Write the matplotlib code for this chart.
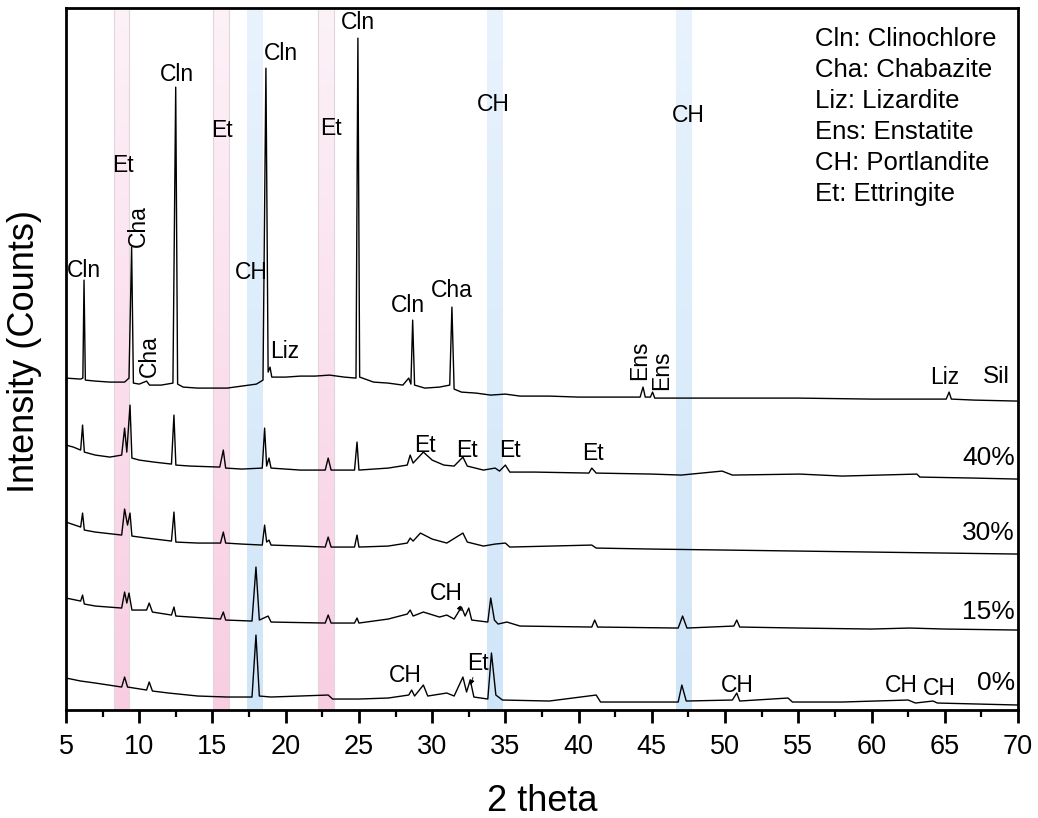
import matplotlib as mpl
mpl.use('Agg')
import matplotlib.pyplot as plt
from matplotlib.ticker import MultipleLocator
import numpy as np

plt.rcParams['font.family'] = ['Liberation Sans', 'DejaVu Sans']

# stacked XRD patterns, intensity in counts (offset already applied)
sil_x = [5.0, 6.0, 6.15, 6.23, 6.32, 7.0, 8.0, 9.0, 9.3, 9.48, 9.6, 10.0, 10.5, 10.7, 11.5,
         12.3, 12.49, 12.62, 13.0, 14.0, 15.0, 16.0, 17.0, 18.0, 18.45, 18.65, 18.8, 18.93,
         19.05, 20.0, 21.0, 22.0, 23.0, 24.0, 24.8, 24.93, 25.05, 26.0, 27.0, 28.0, 28.4,
         28.55, 28.67, 28.8, 29.5, 30.5, 31.2, 31.35, 31.5, 32.0, 33.0, 34.0, 35.0, 36.0,
         38.0, 40.0, 42.0, 44.2, 44.4, 44.55, 44.9, 45.05, 45.2, 47.0, 50.0, 55.0, 60.0,
         65.1, 65.3, 65.45, 67.0, 70.0]
sil_y = [332, 331, 332, 430, 330, 329, 328, 328, 332, 463, 327, 326, 329, 325, 325,
         327, 623, 326, 323, 322, 322, 322, 324, 326, 330, 642, 338, 343,
         333, 333, 334, 334, 335, 333, 332, 672, 333, 328, 327, 325, 332,
         326, 390, 325, 322, 323, 325, 403, 321, 318, 317, 315, 316, 314,
         314, 313, 313, 313, 323, 313, 313, 318, 312, 312, 312, 312, 311,
         311, 318, 311, 310, 309]

p40_x = [5.0, 5.5, 6.0, 6.13, 6.25, 7.0, 8.0, 8.8, 9.0, 9.15, 9.37, 9.5, 10.0, 11.0, 12.2,
         12.37, 12.5, 13.5, 15.5, 15.74, 15.9, 17.0, 18.4, 18.56, 18.7, 18.86, 19.0, 20.0,
         21.0, 22.7, 22.9, 23.1, 24.7, 24.87, 25.0, 26.0, 27.0, 28.3, 28.5, 28.7, 29.4,
         30.0, 30.8, 31.5, 32.1, 32.4, 33.5, 34.3, 34.6, 35.0, 35.3, 37.0, 40.7, 40.9,
         41.2, 45.0, 47.0, 49.8, 50.5, 55.1, 58.0, 63.1, 63.3, 67.0, 70.0]
p40_y = [265, 263, 260, 285, 258, 255, 253, 255, 282, 258, 305, 252, 250, 248, 246,
         295, 245, 244, 243, 260, 242, 241, 242, 282, 244, 252, 242, 241,
         240, 240, 252, 240, 240, 268, 240, 241, 242, 245, 255, 247, 258,
         250, 245, 244, 253, 244, 240, 242, 239, 245, 238, 238, 237, 242,
         237, 236, 235, 239, 235, 236, 234, 236, 233, 232, 231]

p30_x = [5.0, 6.0, 6.13, 6.25, 7.0, 8.8, 9.0, 9.2, 9.37, 9.5, 10.5, 12.2, 12.37, 12.5, 14.0,
         15.55, 15.74, 15.9, 17.0, 18.4, 18.56, 18.7, 18.86, 19.0, 21.0, 22.7, 22.9, 23.1,
         24.7, 24.87, 25.0, 27.0, 28.3, 28.5, 28.7, 29.2, 30.0, 31.0, 32.1, 32.4, 33.5,
         34.3, 35.0, 35.3, 40.9, 41.2, 45.0, 50.0, 55.0, 60.0, 65.0, 70.0]
p30_y = [188, 183, 197, 180, 178, 175, 201, 185, 197, 174, 172, 169, 198, 168, 167,
         167, 178, 167, 166, 165, 185, 168, 170, 165, 164, 163, 173, 163,
         163, 175, 163, 164, 167, 172, 169, 177, 171, 167, 177, 168, 164,
         166, 167, 163, 165, 162, 161, 160, 159, 158, 157, 156]

p15_x = [5.0, 6.0, 6.13, 6.25, 7.0, 8.8, 9.0, 9.15, 9.3, 9.5, 10.5, 10.68, 10.9, 12.2, 12.37,
         12.5, 15.55, 15.74, 15.9, 17.7, 17.97, 18.2, 18.8, 19.0, 22.7, 22.9, 23.1, 24.7,
         24.87, 25.0, 27.0, 28.3, 28.5, 28.7, 29.4, 30.5, 31.0, 31.5, 32.0, 32.25, 32.5,
         32.7, 33.8, 34.0, 34.25, 34.5, 35.1, 36.0, 40.9, 41.1, 41.3, 46.8, 47.1, 47.4,
         50.6, 50.8, 51.0, 55.0, 60.0, 62.6, 65.0, 70.0]
p15_y = [112, 109, 115, 106, 104, 102, 118, 107, 117, 100, 100, 107, 98, 95, 103,
         94, 91, 98, 90, 89, 143, 90, 94, 88, 87, 95, 87, 87,
         92, 87, 91, 96, 100, 94, 98, 93, 95, 91, 103, 94, 102,
         90, 88, 112, 90, 86, 88, 84, 83, 90, 83, 82, 94, 82,
         84, 90, 83, 82, 81, 82, 81, 80]

p0_x = [5.0, 6.0, 7.0, 8.8, 9.0, 9.2, 10.5, 10.68, 10.9, 12.0, 14.0, 16.0, 17.7, 17.97, 18.2,
        19.0, 22.9, 23.2, 25.0, 27.0, 28.4, 28.6, 28.8, 29.4, 29.7, 31.0, 31.5, 32.1,
        32.35, 32.6, 32.85, 33.8, 34.05, 34.35, 34.8, 38.0, 41.2, 41.5, 46.8, 47.05, 47.35,
        50.5, 50.8, 51.0, 54.3, 54.6, 58.0, 62.5, 63.0, 64.2, 64.5, 70.0]
p0_y = [32, 29, 27, 23, 33, 23, 20, 28, 19, 17, 14, 13, 13, 75, 14,
        13, 15, 11, 11, 12, 15, 20, 14, 25, 14, 17, 14, 33,
        18, 30, 13, 11, 57, 15, 10, 9, 15, 8, 8, 25, 9,
        10, 17, 9, 12, 8, 8, 10, 7, 9, 7, 5]

et_bands = [(8.28, 9.32), (15.06, 16.15), (22.22, 23.31)]
ch_bands = [(17.38, 18.47), (33.76, 34.81), (46.68, 47.71)]

legend_lines = ['Cln: Clinochlore', 'Cha: Chabazite', 'Liz: Lizardite',
                'Ens: Enstatite', 'CH: Portlandite', 'Et: Ettringite']
sample_names = ['Sil', '40%', '30%', '15%', '0%']

# peak labels: (text, 2theta, y, rotation)
peak_labels = [
    ('Cln', 6.23, 440, 0), ('Et', 8.89, 545, 0), ('Cha', 9.92, 484, 90),
    ('Cha', 10.67, 354, 90), ('Cln', 12.58, 636, 0), ('Et', 15.65, 580, 0),
    ('CH', 17.63, 438, 0), ('Cln', 19.68, 657, 0), ('Liz', 19.95, 359, 0),
    ('Et', 23.09, 582, 0), ('Cln', 24.93, 688, 0), ('Cln', 28.34, 405, 0),
    ('Cha', 31.35, 420, 0), ('CH', 34.15, 606, 0), ('CH', 47.46, 595, 0),
    ('Ens', 44.18, 350, 90), ('Ens', 45.68, 340, 90), ('Liz', 65.0, 333, 0),
    ('Et', 29.5, 265, 0), ('Et', 32.37, 260, 0), ('Et', 35.3, 260, 0),
    ('Et', 40.97, 257, 0),
    ('CH', 28.14, 35, 0), ('CH', 50.87, 25, 0), ('CH', 62.04, 25, 0),
    ('CH', 64.6, 22, 0),
]

fig = plt.figure(figsize=(10.38, 8.18), dpi=100)
ax = fig.add_axes([0.0636, 0.132, 0.9171, 0.858])
ax.set_xlim(5, 70)
ax.set_ylim(0, 702)

pink = mpl.colors.LinearSegmentedColormap.from_list('pk', ['#fdf2f8', '#f8cde2'])
blue = mpl.colors.LinearSegmentedColormap.from_list('bl', ['#e8f3fd', '#cfe5f8'])
grad = np.linspace(0, 1, 256).reshape(-1, 1)
for (a, b) in et_bands:
    ax.imshow(grad, cmap=pink, extent=(a, b, 0, 702), aspect='auto', origin='upper', zorder=0)
    ax.plot([a, a], [0, 702], color='#e2d6dc', lw=0.8, zorder=0.5)
    ax.plot([b, b], [0, 702], color='#e2d6dc', lw=0.8, zorder=0.5)
for (a, b) in ch_bands:
    ax.imshow(grad, cmap=blue, extent=(a, b, 0, 702), aspect='auto', origin='upper', zorder=0)

for xs, ys in [(sil_x, sil_y), (p40_x, p40_y), (p30_x, p30_y), (p15_x, p15_y), (p0_x, p0_y)]:
    ax.plot(xs, ys, color='k', lw=1.0, zorder=2)

for (t, x, y, r) in peak_labels:
    ax.text(x, y, t, fontsize=16.5, ha='center', va='center', rotation=r, zorder=3)

ax.text(68.55, 333, 'Sil', fontsize=17.5, ha='center', va='center')
for name, y in zip(sample_names[1:], [252, 177, 98, 27]):
    ax.text(69.8, y, name, fontsize=19, ha='right', va='center')

ax.annotate('CH', xy=(32.03, 99), xytext=(31.0, 117), fontsize=16.5, ha='center', va='center',
            arrowprops=dict(arrowstyle='-|>', color='k', lw=0.6, mutation_scale=7,
                            shrinkA=9, shrinkB=0))
ax.annotate('Et', xy=(32.62, 25), xytext=(33.1, 47), fontsize=16.5, ha='center', va='center',
            arrowprops=dict(arrowstyle='-|>', color='k', lw=0.6, mutation_scale=7,
                            shrinkA=9, shrinkB=0))

for i, line in enumerate(legend_lines):
    ax.text(56.13, 671 - i * 31, line, fontsize=18.5, ha='left', va='center')

ax.set_yticks([])
ax.xaxis.set_major_locator(MultipleLocator(5))
ax.xaxis.set_minor_locator(MultipleLocator(2.5))
ax.tick_params(axis='x', which='major', direction='out', length=9.5, width=2,
               labelsize=19.5, pad=8, top=False)
ax.tick_params(axis='x', which='minor', direction='out', length=5, width=1.6, top=False)
for s in ax.spines.values():
    s.set_linewidth(2)

ax.set_xlabel('2 theta', fontsize=26)
ax.set_ylabel('Intensity (Counts)', fontsize=26)
ax.xaxis.set_label_coords(0.5, -0.105)
ax.yaxis.set_label_coords(-0.025, 0.511)

plt.savefig('out.png', dpi=100)
plt.close()
